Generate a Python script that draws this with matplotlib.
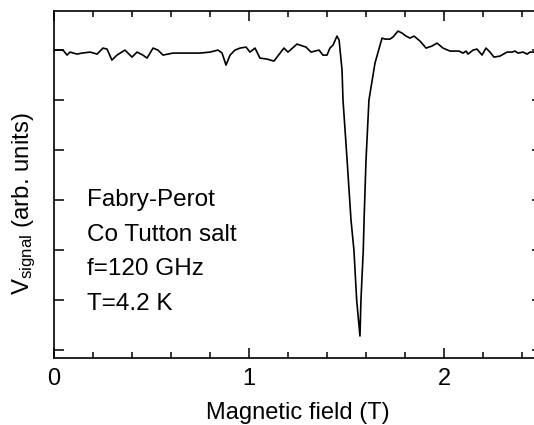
import matplotlib
matplotlib.use("Agg")
import matplotlib.pyplot as plt
from matplotlib.ticker import MultipleLocator

plt.rcParams['font.family'] = ['Liberation Sans', 'DejaVu Sans']
plt.rcParams['mathtext.default'] = 'regular'

# field (T) and signal (arb. units)
field = [0.000, 0.031, 0.046, 0.067, 0.082, 0.118, 0.144, 0.185, 0.221, 0.251,
         0.272, 0.297, 0.323, 0.364, 0.400, 0.426, 0.456, 0.477, 0.508, 0.533,
         0.559, 0.610, 0.682, 0.749, 0.800, 0.841, 0.862, 0.882, 0.903, 0.928,
         0.954, 0.985, 1.005, 1.031, 1.056, 1.092, 1.128, 1.179, 1.200, 1.246,
         1.292, 1.318, 1.359, 1.379, 1.400, 1.415, 1.431, 1.451, 1.462, 1.477,
         1.482, 1.503, 1.523, 1.538, 1.552, 1.569, 1.574, 1.586, 1.590, 1.600,
         1.615, 1.636, 1.646, 1.662, 1.682, 1.697, 1.723, 1.738, 1.764, 1.785,
         1.805, 1.826, 1.846, 1.877, 1.908, 1.938, 1.964, 1.995, 2.031, 2.077,
         2.097, 2.113, 2.123, 2.149, 2.169, 2.195, 2.215, 2.236, 2.256, 2.287,
         2.323, 2.349, 2.364, 2.379, 2.405, 2.426, 2.441, 2.462, 2.497]
signal = [0.00, 0.00, 0.00, -0.10, -0.04, -0.08, -0.06, -0.04, -0.08, 0.04,
          0.02, -0.20, -0.10, 0.00, -0.14, -0.04, -0.10, -0.16, 0.04, 0.00,
          -0.10, -0.06, -0.06, -0.06, -0.04, 0.00, -0.06, -0.30, -0.10, 0.00,
          0.04, 0.06, -0.04, 0.04, -0.16, -0.18, -0.22, 0.04, -0.04, 0.12,
          0.06, -0.04, 0.00, -0.10, -0.10, 0.04, 0.10, 0.28, 0.20, -0.40,
          -1.00, -2.20, -3.40, -4.00, -5.00, -5.72, -5.00, -4.00, -3.40, -2.20,
          -1.00, -0.50, -0.26, -0.04, 0.24, 0.22, 0.22, 0.26, 0.38, 0.34,
          0.28, 0.24, 0.28, 0.18, 0.04, 0.08, 0.14, 0.04, -0.02, -0.02,
          -0.06, -0.02, -0.08, 0.00, 0.02, -0.10, 0.04, -0.04, -0.14, -0.12,
          -0.04, -0.04, -0.02, -0.06, -0.04, -0.08, -0.04, -0.04, -0.04]

notes = ["Fabry-Perot", "Co Tutton salt", "f=120 GHz", "T=4.2 K"]

fig = plt.figure(figsize=(5.34, 4.25), dpi=100)
ax = fig.add_axes([0.1011, 0.1576, 0.913, 0.817])
ax.plot(field, signal, color='black', lw=1.2)

ax.set_xlim(0, 2.5)
ax.set_ylim(-6.16, 0.786)
ax.xaxis.set_major_locator(MultipleLocator(1))
ax.xaxis.set_minor_locator(MultipleLocator(0.2))
ax.yaxis.set_major_locator(MultipleLocator(1))
ax.set_yticklabels([])
ax.tick_params(which='major', direction='in', length=7, width=1.1,
               top=True, right=True, labelsize=17, pad=7)
ax.tick_params(which='minor', direction='in', length=4, width=1.1, top=True)
for s in ax.spines.values():
    s.set_linewidth(1.2)

ax.set_xlabel("Magnetic field (T)", fontsize=17)
ax.xaxis.set_label_coords(0.5, -0.127)
fig.text(24 / 534, 1 - 204 / 425, "V$_{signal}$ (arb. units)", fontsize=17.3,
         rotation=90, ha='center', va='center')

for i, t in enumerate(notes):
    fig.text(87 / 534, 1 - (206 + 34.7 * i) / 425, t, fontsize=17.5,
             ha='left', va='baseline')

fig.savefig("out.png", dpi=100)
